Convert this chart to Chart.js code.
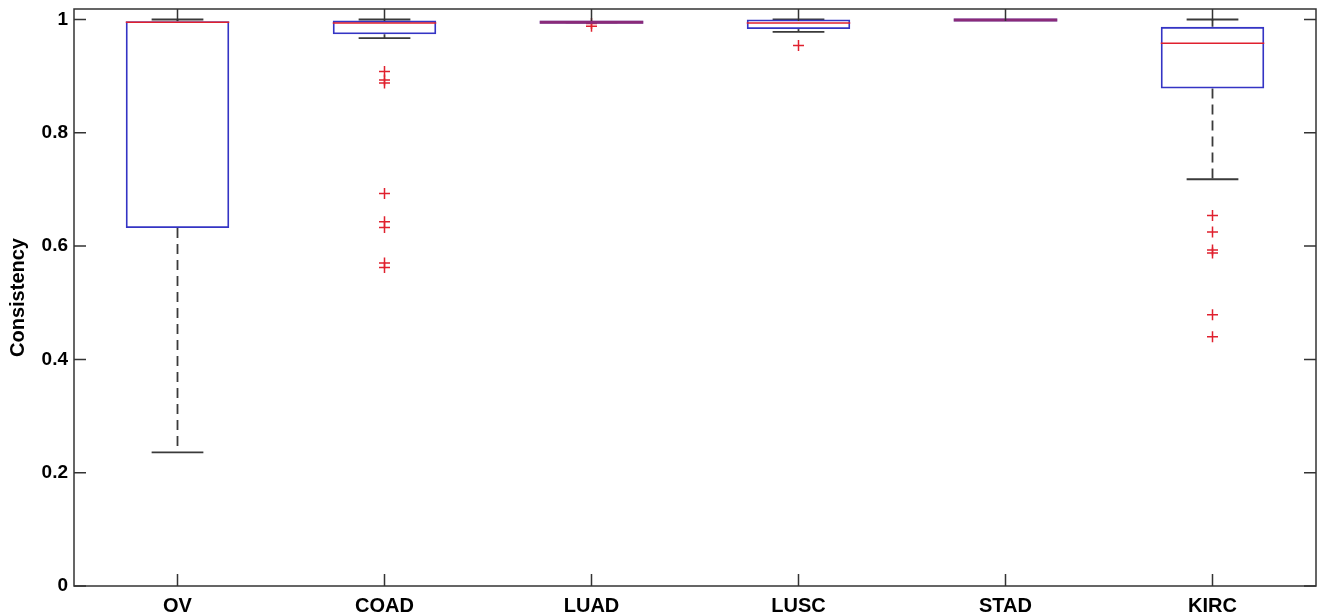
<!DOCTYPE html>
<html>
<head>
<meta charset="utf-8">
<script src="https://cdn.jsdelivr.net/npm/chart.js@4/dist/chart.umd.min.js"></script>
<style>
  html, body { margin: 0; padding: 0; background: #fff; }
  #wrap { width: 1318px; height: 616px; }
</style>
</head>
<body>
<div id="wrap"><canvas id="c" width="1318" height="616"></canvas></div>
<script>
// ---- data ----
const categories = ['OV', 'COAD', 'LUAD', 'LUSC', 'STAD', 'KIRC'];
const q1Values = [0.632, 0.974, 0.995, 0.983, 0.999, 0.878];
const q3Values = [0.997, 0.998, 0.995, 1.000, 0.999, 0.987];
const medianValues = [0.995, 0.994, 0.995, 0.994, 0.999, 0.958];
const whiskerLow = [0.236, 0.967, 0.995, 0.978, 0.999, 0.718];
const whiskerHigh = [1.000, 1.000, 0.995, 1.000, 0.999, 1.000];
const outliersCOAD = [0.908, 0.893, 0.888, 0.693, 0.643, 0.633, 0.570, 0.562];
const outliersLUAD = [0.993, 0.988];
const outliersLUSC = [0.954];
const outliersKIRC = [0.654, 0.625, 0.593, 0.588, 0.479, 0.440];
const yTickValues = [0, 0.2, 0.4, 0.6, 0.8, 1];
const yTickLabels = ['0', '0.2', '0.4', '0.6', '0.8', '1'];
const yAxisTitle = 'Consistency';

// ---- build ----
const outlierPoints = [];
[['COAD', outliersCOAD], ['LUAD', outliersLUAD], ['LUSC', outliersLUSC], ['KIRC', outliersKIRC]]
  .forEach(([cat, arr]) => arr.forEach(v => outlierPoints.push({ x: cat, y: v })));

const BOX_BLUE = '#3434c4';
const MED_RED = '#e0202e';
const WHISK = '#3a3a3a';
const AXIS = '#333333';
const FONT = '"Liberation Sans", Arial, Helvetica, sans-serif';

const boxParts = {
  id: 'boxParts',
  beforeDatasetsDraw(chart) {
    const { ctx, scales: { x, y } } = chart;
    const step = x.getPixelForValue(1) - x.getPixelForValue(0);
    const capHalf = step * 0.125;
    ctx.save();
    ctx.strokeStyle = WHISK;
    ctx.lineWidth = 1.8;
    categories.forEach((c, i) => {
      const cx = x.getPixelForValue(i);
      ctx.setLineDash([10, 6]);
      ctx.beginPath();
      ctx.moveTo(cx, y.getPixelForValue(q1Values[i]));
      ctx.lineTo(cx, y.getPixelForValue(whiskerLow[i]));
      ctx.moveTo(cx, y.getPixelForValue(q3Values[i]));
      ctx.lineTo(cx, y.getPixelForValue(whiskerHigh[i]));
      ctx.stroke();
      ctx.setLineDash([]);
      ctx.beginPath();
      const yl = y.getPixelForValue(whiskerLow[i]);
      const yh = y.getPixelForValue(whiskerHigh[i]);
      ctx.moveTo(cx - capHalf, yl); ctx.lineTo(cx + capHalf, yl);
      ctx.moveTo(cx - capHalf, yh); ctx.lineTo(cx + capHalf, yh);
      ctx.stroke();
    });
    ctx.restore();
  },
  afterDatasetDraw(chart, args) {
    if (args.index !== 0) return;
    const { ctx, scales: { x, y } } = chart;
    const step = x.getPixelForValue(1) - x.getPixelForValue(0);
    const half = step * 0.25;
    ctx.save();
    categories.forEach((c, i) => {
      const cx = x.getPixelForValue(i);
      const collapsed = q1Values[i] === q3Values[i];
      if (collapsed) {
        const yq = y.getPixelForValue(q1Values[i]);
        ctx.strokeStyle = BOX_BLUE;
        ctx.lineWidth = 3;
        ctx.beginPath(); ctx.moveTo(cx - half, yq); ctx.lineTo(cx + half, yq); ctx.stroke();
      }
      const ym = y.getPixelForValue(medianValues[i]);
      ctx.lineWidth = collapsed ? 3 : 1.5;
      ctx.strokeStyle = collapsed ? 'rgba(224,32,46,0.5)' : MED_RED;
      ctx.beginPath(); ctx.moveTo(cx - half, ym); ctx.lineTo(cx + half, ym); ctx.stroke();
    });
    ctx.restore();
  },
  afterDraw(chart) {
    const { ctx, chartArea: a, scales: { x, y } } = chart;
    ctx.save();
    ctx.strokeStyle = AXIS;
    ctx.lineWidth = 1.5;
    ctx.strokeRect(a.left, a.top, a.right - a.left, a.bottom - a.top);
    const tl = 12;
    ctx.beginPath();
    yTickValues.forEach(v => {
      const py = y.getPixelForValue(v);
      ctx.moveTo(a.left, py); ctx.lineTo(a.left + tl, py);
      ctx.moveTo(a.right, py); ctx.lineTo(a.right - tl, py);
    });
    categories.forEach((c, i) => {
      const px = x.getPixelForValue(i);
      ctx.moveTo(px, a.bottom); ctx.lineTo(px, a.bottom - tl);
      ctx.moveTo(px, a.top); ctx.lineTo(px, a.top + tl);
    });
    ctx.stroke();
    ctx.restore();
  }
};

new Chart(document.getElementById('c'), {
  type: 'bar',
  data: {
    labels: categories,
    datasets: [
      {
        type: 'bar',
        data: q1Values.map((v, i) => [v, q3Values[i]]),
        backgroundColor: 'rgba(0,0,0,0)',
        borderColor: BOX_BLUE,
        borderWidth: 1.8,
        borderSkipped: false,
        barPercentage: 0.5,
        categoryPercentage: 1.0,
        grouped: false
      },
      {
        type: 'scatter',
        data: outlierPoints,
        pointStyle: 'cross',
        radius: 5.5,
        borderColor: MED_RED,
        backgroundColor: MED_RED,
        borderWidth: 1.5,
        showLine: false
      }
    ]
  },
  options: {
    responsive: false,
    animation: false,
    devicePixelRatio: 1,
    layout: { autoPadding: false, padding: { left: 0, top: 9, right: 2, bottom: 0 } },
    plugins: { legend: { display: false }, tooltip: { enabled: false } },
    scales: {
      x: {
        type: 'category',
        offset: true,
        grid: { display: false, drawTicks: false },
        border: { display: false },
        ticks: { color: '#000', padding: 8, font: { family: FONT, size: 20, weight: 'bold' }, maxRotation: 0 },
        afterFit(s) { s.height = 30; s.paddingLeft = 0; s.paddingRight = 0; }
      },
      y: {
        type: 'linear',
        min: 0,
        max: 1.0185,
        grid: { display: false, drawTicks: false },
        border: { display: false },
        afterBuildTicks(s) { s.ticks = yTickValues.map(v => ({ value: v })); },
        ticks: {
          color: '#000',
          padding: 6,
          font: { family: FONT, size: 19, weight: 'bold' },
          callback(value) { const i = yTickValues.indexOf(value); return i >= 0 ? yTickLabels[i] : ''; }
        },
        title: {
          display: true,
          text: yAxisTitle,
          color: '#000',
          padding: { top: 6, bottom: 0 },
          font: { family: FONT, size: 20, weight: 'bold' }
        },
        afterFit(s) { s.width = 74; s.paddingTop = 0; s.paddingBottom = 0; }
      }
    }
  },
  plugins: [boxParts]
});
</script>
</body>
</html>
